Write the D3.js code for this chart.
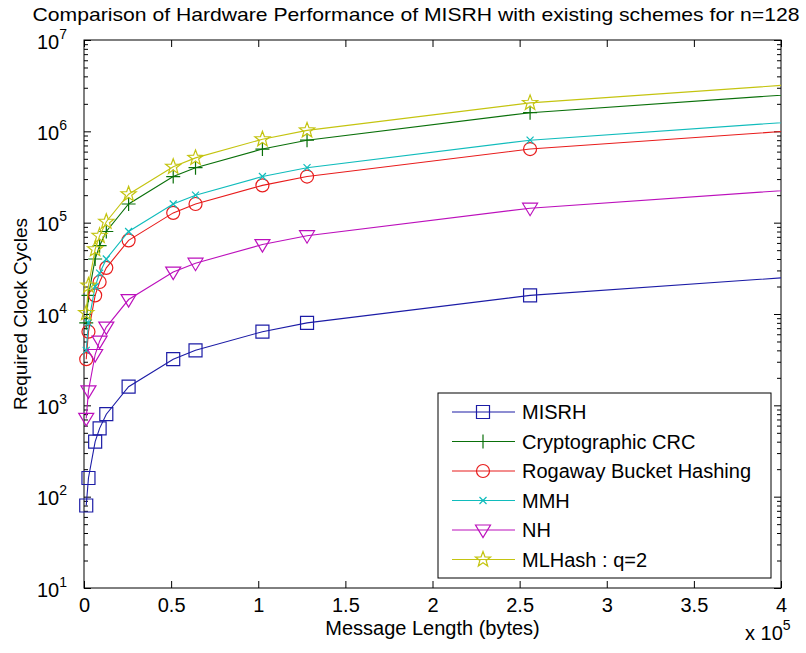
<!DOCTYPE html>
<html><head><meta charset="utf-8">
<script src="https://cdn.jsdelivr.net/npm/d3@7"></script>
<style>
body{margin:0;background:#fff}
text{font-family:"Liberation Sans",Arial,sans-serif;fill:#000}
</style>
</head><body>
<svg id="chart" width="806" height="653"></svg>
<script>
// ---------------- data ----------------
const chartTitle = "Comparison of Hardware Performance of MISRH with existing schemes for n=128";
const xLabel = "Message Length (bytes)";
const yLabel = "Required Clock Cycles";
const messageLength = [1280, 2560, 6400, 8960, 12800, 25600, 51200, 64000, 102400, 128000, 256000, 409600];
const seriesNames = ["MISRH", "Cryptographic CRC", "Rogaway Bucket Hashing", "MMH", "NH", "MLHash : q=2"];
const misrh   = [80, 160, 400, 560, 800, 1600, 3200, 4000, 6400, 8000, 16000, 25600];
const cryptoCrc = [8000, 16000, 40000, 56000, 80000, 160000, 320000, 400000, 640000, 800000, 1600000, 2560000];
const rogaway = [3200, 6400, 16000, 22400, 32000, 64000, 128000, 160000, 256000, 320000, 640000, 1024000];
const mmh     = [4000, 8000, 20000, 28000, 40000, 80000, 160000, 200000, 320000, 400000, 800000, 1280000];
const nh      = [720, 1440, 3600, 5040, 7200, 14400, 28800, 36000, 57600, 72000, 144000, 230400];
const mlhash  = [10240, 20480, 51200, 71680, 102400, 204800, 409600, 512000, 819200, 1024000, 2048000, 3276800];
const xTickValues = [0, 50000, 100000, 150000, 200000, 250000, 300000, 350000, 400000];
const xTickLabels = ["0", "0.5", "1", "1.5", "2", "2.5", "3", "3.5", "4"];
const yTickExponents = [1, 2, 3, 4, 5, 6, 7];

const seriesValues = [misrh, cryptoCrc, rogaway, mmh, nh, mlhash];
const seriesColors = ["#1c1ca6", "#0a700a", "#e81c1c", "#10bcbc", "#bc10bc", "#c4c410"];
const seriesMarkers = ["square", "plus", "circle", "x", "triangle", "star"];

// ---------------- layout ----------------
const L = 84, R = 781, T = 40, B = 588;
const svg = d3.select("#chart");
svg.append("rect").attr("width", 806).attr("height", 653).attr("fill", "#fff");

const x = d3.scaleLinear().domain([0, 400000]).range([L, R]);
const y = d3.scaleLog().domain([10, 1e7]).range([B, T]);

function markerPath(type) {
  switch (type) {
    case "square": return "M-6.5,-6.5h13v13h-13z";
    case "plus": return "M-7,0H7M0,-7V7";
    case "x": return "M-3.5,-3.5L3.5,3.5M-3.5,3.5L3.5,-3.5";
    case "triangle": return "M-7.5,-5L7.5,-5L0,7.5Z";
    case "circle": return "M6.5,0A6.5,6.5 0 1,1 -6.5,0A6.5,6.5 0 1,1 6.5,0Z";
    case "star": {
      const pts = [];
      for (let i = 0; i < 10; i++) {
        const a = -Math.PI / 2 + i * Math.PI / 5;
        const r = i % 2 ? 3.3 : 8;
        pts.push([r * Math.cos(a), r * Math.sin(a)]);
      }
      return "M" + pts.map(p => p[0].toFixed(2) + "," + p[1].toFixed(2)).join("L") + "Z";
    }
  }
}

// clip for lines
svg.append("defs").append("clipPath").attr("id", "plotClip")
  .append("rect").attr("x", L).attr("y", T).attr("width", R - L).attr("height", B - T);

// ---------------- axes ----------------
const minorY = [];
for (let e = 1; e < 7; e++) for (let m = 2; m <= 9; m++) minorY.push(m * Math.pow(10, e));
const majorY = yTickExponents.map(e => Math.pow(10, e));

function styleAxis(g) {
  g.select(".domain").remove();
  g.selectAll(".tick line").attr("stroke", "#000").attr("stroke-width", 1);
}

svg.append("g").attr("transform", `translate(0,${B})`)
  .call(d3.axisBottom(x).tickValues(xTickValues).tickSizeInner(-7).tickSizeOuter(0).tickPadding(10)
    .tickFormat((d, i) => xTickLabels[i]))
  .call(styleAxis)
  .call(g => g.selectAll(".tick text").attr("font-size", 20).attr("font-family", "Liberation Sans, Arial, sans-serif"));
svg.append("g").attr("transform", `translate(0,${T})`)
  .call(d3.axisTop(x).tickValues(xTickValues).tickSizeInner(-7).tickSizeOuter(0).tickFormat(""))
  .call(styleAxis);

const leftAxis = svg.append("g").attr("transform", `translate(${L},0)`)
  .call(d3.axisLeft(y).tickValues(majorY).tickSizeInner(-7).tickSizeOuter(0).tickFormat(""))
  .call(styleAxis);
svg.append("g").attr("transform", `translate(${L},0)`)
  .call(d3.axisLeft(y).tickValues(minorY).tickSizeInner(-4).tickSizeOuter(0).tickFormat(""))
  .call(styleAxis);
svg.append("g").attr("transform", `translate(${R},0)`)
  .call(d3.axisRight(y).tickValues(majorY).tickSizeInner(-7).tickSizeOuter(0).tickFormat(""))
  .call(styleAxis);
svg.append("g").attr("transform", `translate(${R},0)`)
  .call(d3.axisRight(y).tickValues(minorY).tickSizeInner(-4).tickSizeOuter(0).tickFormat(""))
  .call(styleAxis);

// y tick labels 10^k
leftAxis.selectAll(".tick").each(function (d, i) {
  const t = d3.select(this).append("text").attr("x", -17).attr("y", 8)
    .attr("text-anchor", "end").attr("font-size", 20).attr("fill", "#000");
  t.append("tspan").text("10");
  t.append("tspan").attr("dy", -10).attr("font-size", 14).text(yTickExponents[i]);
});

// box
svg.append("rect").attr("x", L).attr("y", T).attr("width", R - L).attr("height", B - T)
  .attr("fill", "none").attr("stroke", "#000").attr("stroke-width", 1);

// ---------------- series ----------------
const line = d3.line().x((d, i) => x(messageLength[i])).y(d => y(d));
seriesValues.forEach((vals, s) => {
  svg.append("path").datum(vals).attr("d", line)
    .attr("fill", "none").attr("stroke", seriesColors[s]).attr("stroke-width", 1.1)
    .attr("clip-path", "url(#plotClip)");
  svg.append("g").selectAll("path").data(vals.filter((v, i) => messageLength[i] <= 400000))
    .join("path")
    .attr("transform", (d, i) => `translate(${x(messageLength[i])},${y(d)})`)
    .attr("d", markerPath(seriesMarkers[s]))
    .attr("fill", "none").attr("stroke", seriesColors[s]).attr("stroke-width", 1.2);
});

// ---------------- legend ----------------
const lg = svg.append("g");
lg.append("rect").attr("x", 438).attr("y", 393).attr("width", 333).attr("height", 185)
  .attr("fill", "#fff").attr("stroke", "#000").attr("stroke-width", 1);
seriesNames.forEach((name, s) => {
  const cy = 412 + s * 29.5;
  lg.append("line").attr("x1", 452).attr("x2", 515).attr("y1", cy).attr("y2", cy)
    .attr("stroke", seriesColors[s]).attr("stroke-width", 1.1);
  lg.append("path").attr("transform", `translate(483,${cy})`).attr("d", markerPath(seriesMarkers[s]))
    .attr("fill", "none").attr("stroke", seriesColors[s]).attr("stroke-width", 1.2);
  lg.append("text").attr("x", 522).attr("y", cy + 7).attr("font-size", 20).text(name);
});

// ---------------- titles ----------------
svg.append("text").attr("x", 416).attr("y", 21).attr("text-anchor", "middle")
  .attr("font-size", 19).attr("textLength", 767).attr("lengthAdjust", "spacingAndGlyphs")
  .text(chartTitle);
svg.append("text").attr("x", (L + R) / 2).attr("y", 635).attr("text-anchor", "middle")
  .attr("font-size", 20).text(xLabel);
svg.append("text").attr("transform", `translate(27,${(T + B) / 2}) rotate(-90)`)
  .attr("text-anchor", "middle").attr("font-size", 19).text(yLabel);
const ex = svg.append("text").attr("x", 745).attr("y", 640).attr("font-size", 20);
ex.append("tspan").text("x 10");
ex.append("tspan").attr("dy", -10).attr("font-size", 14).text("5");
</script>
</body></html>
